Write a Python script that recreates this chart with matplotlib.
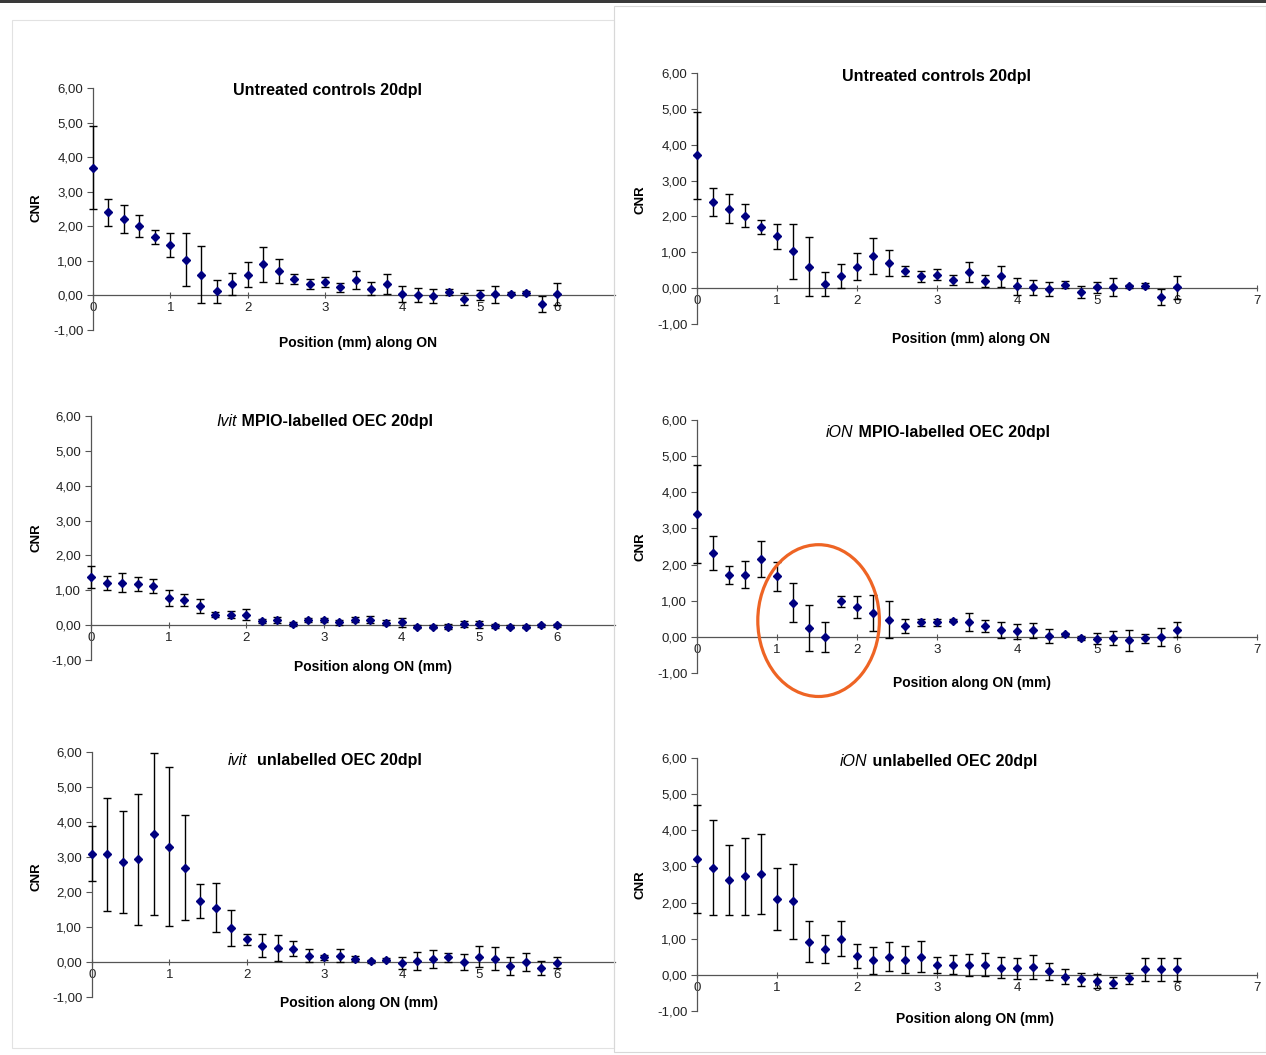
import matplotlib.pyplot as plt
import numpy as np
from matplotlib.patches import Ellipse, Rectangle
from matplotlib.ticker import FuncFormatter

plt.rcParams['font.family'] = ['Liberation Sans', 'DejaVu Sans']

W, H = 1266, 1055

# position along the optic nerve (mm)
pos = [0.0, 0.2, 0.4, 0.6, 0.8, 1.0, 1.2, 1.4, 1.6, 1.8, 2.0, 2.2, 2.4, 2.6, 2.8, 3.0,
       3.2, 3.4, 3.6, 3.8, 4.0, 4.2, 4.4, 4.6, 4.8, 5.0, 5.2, 5.4, 5.6, 5.8, 6.0]

# untreated controls 20dpl (same data in both top panels)
ctrl_cnr = [3.70, 2.40, 2.22, 2.02, 1.70, 1.45, 1.03, 0.60, 0.12, 0.33, 0.60, 0.90, 0.70, 0.48, 0.33, 0.38,
            0.23, 0.45, 0.20, 0.33, 0.05, 0.02, -0.02, 0.10, -0.10, 0.02, 0.03, 0.05, 0.07, -0.25, 0.03]
ctrl_err = [1.20, 0.38, 0.40, 0.32, 0.20, 0.35, 0.77, 0.82, 0.33, 0.33, 0.37, 0.50, 0.35, 0.15, 0.15, 0.15,
            0.14, 0.27, 0.18, 0.30, 0.23, 0.20, 0.20, 0.10, 0.17, 0.15, 0.25, 0.05, 0.07, 0.22, 0.32]

# ivit MPIO-labelled OEC 20dpl
ivit_mpio_cnr = [1.38, 1.20, 1.22, 1.18, 1.13, 0.78, 0.72, 0.55, 0.30, 0.30, 0.30, 0.12, 0.15, 0.03, 0.15, 0.15,
                 0.08, 0.15, 0.15, 0.07, 0.08, -0.05, -0.05, -0.04, 0.03, 0.03, -0.03, -0.04, -0.04, 0.00, -0.01]
ivit_mpio_err = [0.32, 0.20, 0.27, 0.20, 0.20, 0.22, 0.18, 0.20, 0.07, 0.10, 0.15, 0.06, 0.08, 0.06, 0.05, 0.05,
                 0.07, 0.07, 0.10, 0.07, 0.12, 0.04, 0.04, 0.07, 0.08, 0.10, 0.06, 0.03, 0.05, 0.04, 0.05]

# iON MPIO-labelled OEC 20dpl
ion_mpio_cnr = [3.40, 2.32, 1.70, 1.72, 2.15, 1.68, 0.95, 0.25, 0.00, 0.98, 0.83, 0.65, 0.48, 0.30, 0.40, 0.40,
                0.45, 0.42, 0.30, 0.20, 0.15, 0.18, 0.02, 0.07, -0.03, -0.05, -0.03, -0.10, -0.04, -0.01, 0.20]
ion_mpio_err = [1.35, 0.48, 0.25, 0.37, 0.50, 0.40, 0.55, 0.63, 0.42, 0.15, 0.30, 0.50, 0.50, 0.20, 0.10, 0.10,
                0.05, 0.25, 0.17, 0.22, 0.20, 0.20, 0.20, 0.05, 0.06, 0.15, 0.20, 0.28, 0.12, 0.25, 0.20]

# ivit unlabelled OEC 20dpl
ivit_unl_cnr = [3.10, 3.08, 2.85, 2.93, 3.65, 3.30, 2.70, 1.75, 1.55, 0.98, 0.65, 0.47, 0.40, 0.38, 0.18, 0.13,
                0.18, 0.10, 0.02, 0.07, -0.02, 0.03, 0.08, 0.13, 0.00, 0.15, 0.10, -0.12, 0.00, -0.18, -0.02]
ivit_unl_err = [0.78, 1.62, 1.46, 1.86, 2.32, 2.27, 1.51, 0.48, 0.70, 0.52, 0.15, 0.32, 0.37, 0.22, 0.18, 0.07,
                0.18, 0.07, 0.04, 0.05, 0.17, 0.25, 0.25, 0.12, 0.22, 0.30, 0.32, 0.25, 0.25, 0.20, 0.15]

# iON unlabelled OEC 20dpl
ion_unl_cnr = [3.20, 2.97, 2.63, 2.73, 2.78, 2.10, 2.03, 0.92, 0.72, 1.00, 0.52, 0.40, 0.50, 0.42, 0.50, 0.28,
               0.28, 0.28, 0.28, 0.20, 0.18, 0.22, 0.10, -0.05, -0.12, -0.17, -0.22, -0.10, 0.15, 0.15, 0.15]
ion_unl_err = [1.50, 1.31, 0.97, 1.07, 1.11, 0.87, 1.03, 0.57, 0.38, 0.48, 0.33, 0.38, 0.40, 0.37, 0.43, 0.22,
               0.27, 0.30, 0.32, 0.30, 0.30, 0.33, 0.23, 0.20, 0.18, 0.18, 0.15, 0.15, 0.33, 0.33, 0.33]


def fx(px):
    return px / W


def fy(py):
    return 1 - py / H


fig = plt.figure(figsize=(W / 100, H / 100), dpi=100)

# page frames of the pasted screenshots
fig.patches.append(Rectangle((0, fy(3)), 1, 3 / H, transform=fig.transFigure,
                             facecolor='#3a3a3a', edgecolor='none'))
fig.patches.append(Rectangle((fx(12), fy(1048)), fx(614 - 12), (1048 - 20) / H,
                             transform=fig.transFigure, facecolor='none',
                             edgecolor='#e2e2e2', lw=0.8))
fig.patches.append(Rectangle((fx(614), fy(1052)), fx(W - 614), (1052 - 6) / H,
                             transform=fig.transFigure, facecolor='none',
                             edgecolor='#d8d8d8', lw=0.8))

split_titles = []


def comma(v, p):
    return ('%.2f' % v).replace('.', ',')


def panel(box, xmax, cnr, err, xticks, title_it, title_b, tx, ty, xlabel, lx, ly, cx, cy):
    left, top, right, bottom = box
    ax = fig.add_axes([fx(left), fy(bottom), fx(right - left), (bottom - top) / H])
    ax.set_xlim(0, xmax)
    ax.set_ylim(-1, 6)
    ax.patch.set_alpha(0)
    ax.spines['top'].set_visible(False)
    ax.spines['right'].set_visible(False)
    ax.spines['bottom'].set_position(('data', 0))
    ax.spines['bottom'].set_color('#555555')
    ax.spines['left'].set_color('#555555')
    ax.spines['bottom'].set_linewidth(0.9)
    ax.spines['left'].set_linewidth(0.9)
    ax.set_yticks(np.arange(-1, 7, 1))
    ax.yaxis.set_major_formatter(FuncFormatter(comma))
    ax.set_xticks(xticks)
    ax.tick_params(axis='y', direction='out', length=4, width=0.8, labelsize=9.5,
                   colors='#555555', labelcolor='#222222', pad=3)
    ax.tick_params(axis='x', direction='inout', length=4, width=0.8, labelsize=9.5,
                   colors='#555555', labelcolor='#222222', pad=3)
    ax.errorbar(pos, cnr, yerr=err, fmt='D', color='#000080', ms=4.5, mec='#000080',
                ecolor='black', elinewidth=1, capsize=3, capthick=1, zorder=3, clip_on=False)
    if title_it:
        t1 = fig.text(fx(tx), fy(ty + 5), title_it, style='italic', fontsize=11.5,
                      ha='left', va='baseline')
        split_titles.append((t1, title_b, ty + 5))
    else:
        fig.text(fx(tx), fy(ty), title_b, fontsize=11.5, fontweight='bold',
                 ha='left', va='center')
    fig.text(fx(lx), fy(ly), xlabel, fontsize=10, fontweight='bold', ha='center', va='center')
    fig.text(fx(cx), fy(cy), 'CNR', fontsize=9.5, fontweight='bold', rotation=90,
             ha='center', va='center')
    return ax


ticks6 = [0, 1, 2, 3, 4, 5, 6]
ticks7 = [0, 1, 2, 3, 4, 5, 6, 7]

panel((93, 88, 615, 330), 6.75, ctrl_cnr, ctrl_err, ticks6, None, 'Untreated controls 20dpl',
      233, 91, 'Position (mm) along ON', 358, 343, 37, 208)
panel((697, 73, 1257, 324), 7, ctrl_cnr, ctrl_err, ticks7, None, 'Untreated controls 20dpl',
      842, 77, 'Position (mm) along ON', 971, 339, 640, 200)
panel((91, 416, 615, 660), 6.75, ivit_mpio_cnr, ivit_mpio_err, ticks6, 'Ivit', ' MPIO-labelled OEC 20dpl',
      216, 421, 'Position along ON (mm)', 373, 667, 37, 538)
ax4 = panel((697, 420, 1257, 673), 7, ion_mpio_cnr, ion_mpio_err, ticks7, 'iON', ' MPIO-labelled OEC 20dpl',
            826, 432, 'Position along ON (mm)', 972, 683, 640, 547)
panel((92, 752, 615, 997), 6.75, ivit_unl_cnr, ivit_unl_err, ticks6, 'ivit', '  unlabelled OEC 20dpl',
      228, 760, 'Position along ON (mm)', 359, 1003, 37, 877)
panel((697, 758, 1257, 1011), 7, ion_unl_cnr, ion_unl_err, ticks7, 'iON', ' unlabelled OEC 20dpl',
      840, 761, 'Position along ON (mm)', 975, 1019, 640, 885)

# italic prefix + bold rest on one baseline
renderer = fig.canvas.get_renderer()
for t1, rest, base in split_titles:
    bb = t1.get_window_extent(renderer)
    fig.text(bb.x1 / W, fy(base), rest, fontsize=11.5, fontweight='bold',
             ha='left', va='baseline')

# highlight circle around the dip
ax4.add_patch(Ellipse((1.52, 0.45), 1.52, 4.2, facecolor='none', edgecolor='#EE6424',
                      lw=2.3, clip_on=False, zorder=4))

fig.savefig('out.png', dpi=100)
